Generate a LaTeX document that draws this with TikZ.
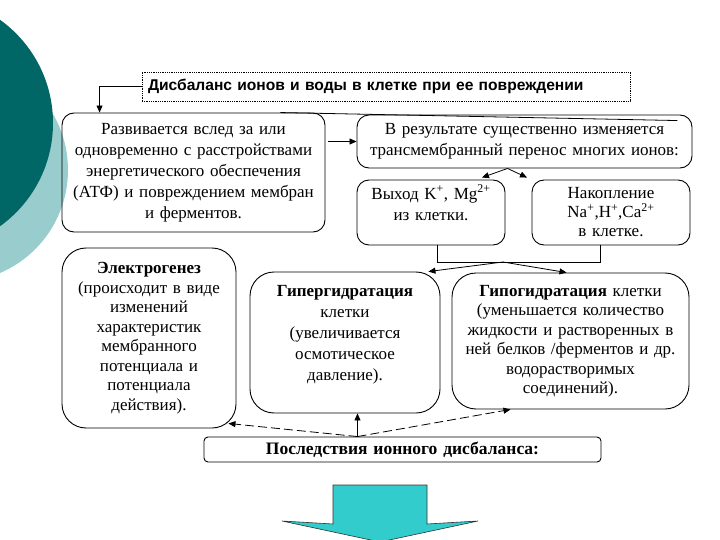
\documentclass[tikz,border=0pt]{standalone}
\usepackage{fontspec}
\setmainfont{Liberation Serif}
\setsansfont{Liberation Sans}
\usetikzlibrary{arrows.meta, calc, positioning}
\usepackage{xcolor}

\definecolor{darkteal}{HTML}{006666}
\definecolor{paleteal}{HTML}{99CCCC}
\definecolor{arrowcyan}{HTML}{33CCCC}

\begin{document}
\begin{tikzpicture}[x=1pt, y=-1pt,
    cell/.style={draw, line width=0.9pt, rounded corners=12pt, align=center,
      inner sep=0pt, font=\fontsize{17}{21}\selectfont},
    roundcell/.style={cell, rounded corners=24pt, font=\fontsize{17}{19.5}\selectfont},
    link/.style={line width=0.8pt, -{Triangle[length=7pt, width=6pt]}},
    dashlink/.style={link, dash pattern=on 9pt off 4pt}]

  \useasboundingbox (0,0) rectangle (720,540);

  % background circles
  \fill[paleteal] (-44,170) circle[radius=112pt];
  \fill[darkteal] (-74,123) circle[radius=127pt];

  % title
  \node[draw, densely dotted, line width=0.8pt, minimum width=488pt, minimum height=29pt,
    inner xsep=6pt, text width=476pt, align=left,
    font=\sffamily\bfseries\fontsize{15.6}{18}\selectfont] (title) at (386,86.5)
    {Дисбаланс ионов и воды в клетке при ее повреждении};

  % upper boxes
  \node[cell, minimum width=263pt, minimum height=119pt, text width=257pt] (cause) at (193.5,172.5)
    {Развивается вслед за или\\одновременно с расстройствами\\энергетического обеспечения\\(АТФ) и повреждением мембран\\и ферментов.};
  \node[cell, minimum width=335pt, minimum height=53pt, text width=329pt] (transport) at (524.5,141.5)
    {В результате существенно изменяется\\трансмембранный перенос многих ионов:};
  \node[cell, minimum width=148pt, minimum height=65pt, text width=142pt, text depth=41pt] (efflux) at (431,212.5)
    {Выход K\textsuperscript{+}, Mg\textsuperscript{2+}\\из клетки.};
  \node[cell, minimum width=158pt, minimum height=65pt, text width=152pt,
    font=\fontsize{17}{19}\selectfont] (influx) at (611,212.5)
    {Накопление\\Na\textsuperscript{+},H\textsuperscript{+},Ca\textsuperscript{2+}\\в клетке.};

  % lower boxes
  \node[roundcell, minimum width=174pt, minimum height=180pt, text width=168pt] (electro) at (149,338)
    {\textbf{Электрогенез}\\(происходит в виде\\изменений\\характеристик\\мембранного\\потенциала и\\потенциала\\действия).};
  \node[roundcell, minimum width=190pt, minimum height=141pt, text width=184pt,
    font=\fontsize{17}{21}\selectfont, text depth=104pt] (hyper) at (345,342.5)
    {\textbf{Гипергидратация}\\клетки\\(увеличивается\\осмотическое\\давление).};
  \node[roundcell, minimum width=237pt, minimum height=136pt, text width=233pt] (hypo) at (570.5,341)
    {\textbf{Гипогидратация} клетки\\(уменьшается количество\\жидкости и растворенных в\\ней белков /ферментов и др.\\водорастворимых\\соединений).};
  \node[cell, rounded corners=4pt, minimum width=397pt, minimum height=25pt, text width=391pt,
    font=\fontsize{17.5}{21}\selectfont] (result) at (402.5,449.5)
    {\textbf{Последствия ионного дисбаланса:}};

  % title to first box
  \draw[link] (title.west) -| ([xshift=38pt]cause.north west);

  % first box to transport box
  \draw[link] ([xshift=3pt]cause.east |- transport.west) -- (transport.west);
  \draw[line width=0.8pt] ([xshift=-45pt]cause.north east) -- ([xshift=-15pt,yshift=-6pt]transport.north east);

  % transport to the ion boxes
  \coordinate (tsplit) at ([xshift=-17pt]transport.south);
  \draw[link] (tsplit) -- ([xshift=51pt,yshift=2pt]efflux.north);
  \draw[link] (tsplit) -- ([xshift=-84pt,yshift=2pt]influx.north);

  % ion boxes to hydration boxes
  \draw[line width=0.8pt] ([xshift=6pt]efflux.south) -- ++(0,17) -| ([xshift=-11pt]influx.south);
  \coordinate (isplit) at (503,262);
  \draw[link] (isplit) -- ([xshift=-12pt]hyper.north east);
  \draw[link] (isplit) -- ([xshift=-4pt]hypo.north);

  % consequences to the three boxes
  \coordinate (rsplit) at ([xshift=-45pt]result.north);
  \draw[link] (rsplit) -- (rsplit |- hyper.south);
  \draw[dashlink] (rsplit) -- ([xshift=-8pt,yshift=5pt]electro.south east);
  \draw[dashlink] (rsplit) -- ([xshift=-60pt]hypo.south);

  % big down arrow
  \draw[fill=arrowcyan, draw=black!80, line width=0.6pt]
    (333,485) -- (427,485) -- (427,524) -- (478,521) -- (380,542) -- (282,521) -- (333,524) -- cycle;
\end{tikzpicture}
\end{document}
